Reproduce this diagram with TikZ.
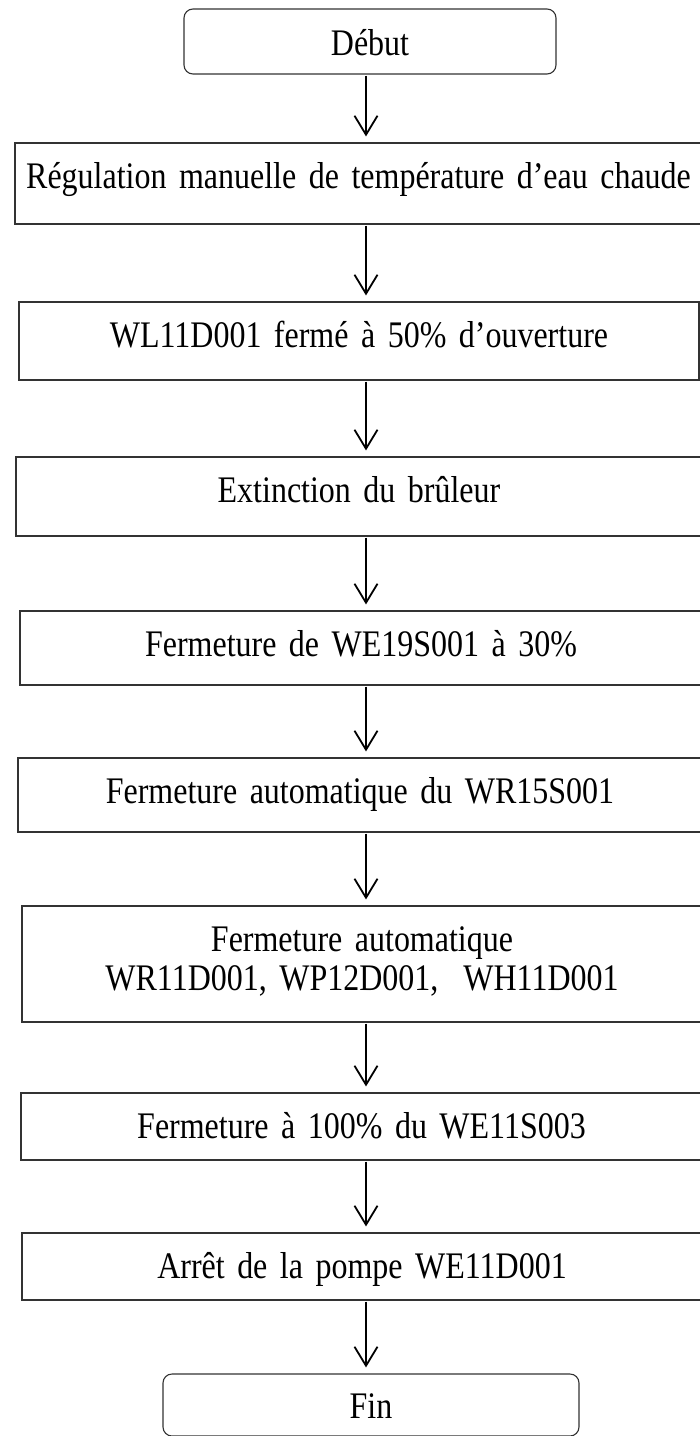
\documentclass[tikz,border=0pt]{standalone}
\usepackage{fontspec}
\setmainfont{Liberation Serif}
\newfontfamily\boxfont{Liberation Serif}[FakeStretch=0.853]
\newcommand\boxtextfont{\boxfont\fontsize{37.5}{39}\selectfont\spaceskip=7pt\relax}
\usetikzlibrary{arrows.meta}
\begin{document}
\begin{tikzpicture}[x=1pt,y=-1pt,
  stepbox/.style={draw=black!80, line width=1.1pt, rectangle, inner sep=0pt,
    align=center, text width=670pt, font=\boxtextfont, text depth=18pt},
  termbox/.style={stepbox, rounded corners=9pt, text width=360pt},
  flow/.style={-{Straight Barb[length=19pt,width=23pt]}, line width=1.8pt,
    shorten >=6pt, shorten <=1pt}]
\useasboundingbox (0,0) rectangle (700,1436);
\clip (0,0) rectangle (700,1436);
\coordinate (axis) at (366,0);
\node[termbox, minimum width=372pt, minimum height=65pt, text height=31pt, text depth=3pt] (start) at (370,41.5) {Début};
\node[stepbox, minimum width=687pt, minimum height=81pt, text height=27pt] (b2) at (358.5,183.5) {Régulation manuelle de température d’eau chaude};
\node[stepbox, minimum width=680pt, minimum height=78pt, text height=30pt] (b3) at (359,341) {WL11D001 fermé à 50\% d’ouverture};
\node[stepbox, minimum width=686pt, minimum height=79pt, text height=29pt] (b4) at (359,496.5) {Extinction du brûleur};
\node[stepbox, minimum width=682pt, minimum height=74pt, text height=34pt] (b5) at (361,648) {Fermeture de WE19S001 à 30\%};
\node[stepbox, minimum width=684pt, minimum height=74pt, text height=34pt] (b6) at (360,795) {Fermeture automatique du WR15S001};
\node[stepbox, minimum width=680pt, minimum height=116pt, text height=21pt, text depth=47pt] (b7) at (362,964) {Fermeture automatique\\WR11D001, WP12D001,~~WH11D001};
\node[stepbox, minimum width=681pt, minimum height=67pt, text height=41pt] (b8) at (361.5,1126.5) {Fermeture à 100\% du WE11S003};
\node[stepbox, minimum width=680pt, minimum height=67pt, text height=41pt] (b9) at (362,1266.5) {Arrêt de la pompe WE11D001};
\node[termbox, minimum width=416pt, minimum height=56pt, text height=44pt] (fin) at (371,1405) {Fin};
\draw[flow] (start.south -| axis) -- (b2.north -| axis);
\draw[flow] (b2.south -| axis) -- (b3.north -| axis);
\draw[flow] (b3.south -| axis) -- (b4.north -| axis);
\draw[flow] (b4.south -| axis) -- (b5.north -| axis);
\draw[flow] (b5.south -| axis) -- (b6.north -| axis);
\draw[flow] (b6.south -| axis) -- (b7.north -| axis);
\draw[flow] (b7.south -| axis) -- (b8.north -| axis);
\draw[flow] (b8.south -| axis) -- (b9.north -| axis);
\draw[flow] (b9.south -| axis) -- (fin.north -| axis);
\end{tikzpicture}
\end{document}
